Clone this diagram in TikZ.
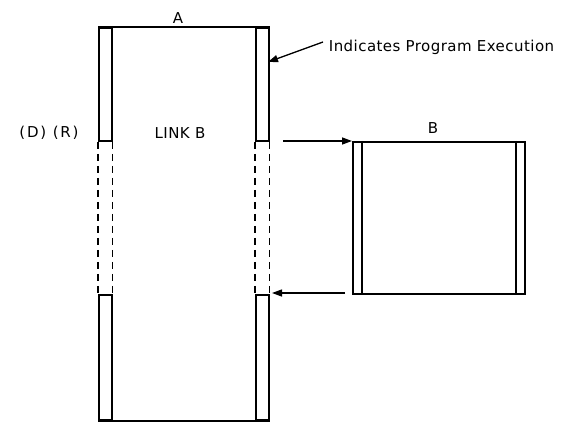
\documentclass[tikz,border=0pt]{standalone}
\usepackage{fontspec}
\setmainfont{DejaVu Sans}
\usetikzlibrary{arrows.meta}
\begin{document}
\begin{tikzpicture}[x=1pt,y=-1pt,line width=1.8pt,
  lbl/.style={font=\fontsize{15}{17}\selectfont\addfontfeature{LetterSpace=3}, inner sep=0pt},
  strip/.style={draw, minimum width=13pt, inner sep=0pt, line width=1.8pt, anchor=north west},
  arr/.style={-{Triangle[length=10pt,width=7pt]}, line width=1.3pt},
  dline/.style={dashed, dash pattern=on 7pt off 5pt, line width=1.3pt}]
\useasboundingbox (0,0) rectangle (564,422);
% program A strips
\node[strip, minimum height=113pt] (tl) at (98,27) {};
\node[strip, minimum height=113pt] (tr) at (255,27) {};
\node[strip, minimum height=125pt] (bl) at (98,294) {};
\node[strip, minimum height=125pt] (br) at (255,294) {};
\draw (tl.north west) -- (tr.north east);
\draw (bl.south west) -- (br.south east);
\draw[dline] (tl.south west) -- (bl.north west);
\draw[dline] (tl.south east) -- (bl.north east);
\draw[dline] (tr.south west) -- (br.north west);
\draw[dline] (tr.south east) -- (br.north east);
% program B
\node[draw, minimum width=172pt, minimum height=152pt, inner sep=0pt, anchor=north west] (boxB) at (352,141) {};
\draw ([xshift=10pt]boxB.north west) -- ([xshift=10pt]boxB.south west);
\draw ([xshift=-10pt]boxB.north east) -- ([xshift=-10pt]boxB.south east);
% labels
\node[lbl] (labA) at (178,18) {A};
\node[lbl] (labB) at (433,128) {B};
\node[lbl] (link) at (180,133) {LINK B};
\node[lbl] (dr) at (49,133) {\addfontfeature{LetterSpace=12}(D) (R)};
\node[lbl, anchor=west] (cap) at (328,47) {Indicates Program Execution};
% arrows
\coordinate (c1) at (323,42);
\coordinate (c2) at (268,62);
\draw[arr] (c1) -- (c2);
\coordinate (o1) at (283,141);
\draw[arr] (o1) -- (boxB.north west);
\coordinate (o2) at (345,293);
\coordinate (i2) at (272,293);
\draw[arr] (o2) -- (i2);
\end{tikzpicture}
\end{document}
